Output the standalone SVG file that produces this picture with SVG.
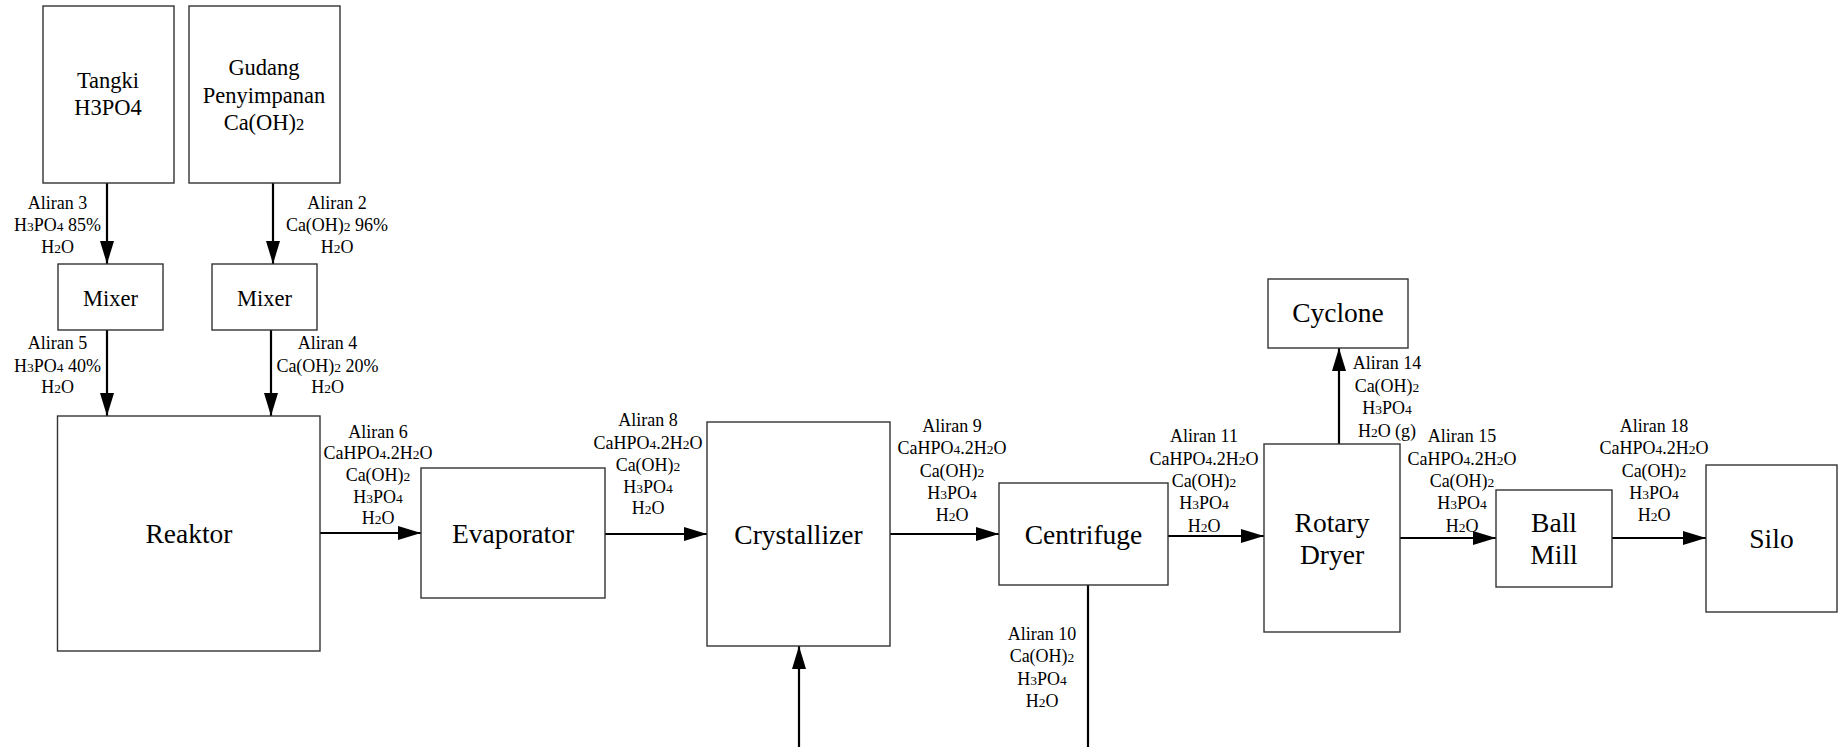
<svg xmlns="http://www.w3.org/2000/svg" width="1842" height="747" viewBox="0 0 1842 747">
<style>
.box{fill:#fff;stroke:#333;stroke-width:1.4}
.ln{stroke:#000;stroke-width:2.2;fill:none}
.la{stroke:#000;stroke-width:2.2;fill:none;marker-end:url(#ah)}
</style>
<defs>
<marker id="ah" markerUnits="userSpaceOnUse" markerWidth="24" markerHeight="15" refX="23" refY="7" orient="auto">
<path d="M0,0 L23,7 L0,14 z" fill="#000"/>
</marker>
</defs>
<rect width="1842" height="747" fill="#fff"/>

<g id="connectors">
<line class="la" x1="107" y1="183" x2="107" y2="264"/>
<line class="la" x1="273" y1="183" x2="273" y2="264"/>
<line class="la" x1="107" y1="330" x2="107" y2="416"/>
<line class="la" x1="271" y1="330" x2="271" y2="416"/>
<line class="la" x1="320" y1="533" x2="421" y2="533"/>
<line class="la" x1="605" y1="534" x2="707" y2="534"/>
<line class="la" x1="890" y1="534" x2="999" y2="534"/>
<line class="la" x1="799" y1="747" x2="799" y2="646"/>
<line class="ln" x1="1088" y1="585" x2="1088" y2="747"/>
<line class="la" x1="1168" y1="536" x2="1264" y2="536"/>
<line class="la" x1="1339" y1="444" x2="1339" y2="348"/>
<line class="la" x1="1400" y1="538" x2="1496" y2="538"/>
<line class="la" x1="1612" y1="538" x2="1706" y2="538"/>
</g>

<g id="labels">
<text font-family="Liberation Serif" font-size="18" text-anchor="middle" x="57.5" y="209">Aliran 3</text>
<text font-family="Liberation Serif" font-size="18" text-anchor="middle" x="57.5" y="231">H<tspan font-size="13.5">3</tspan>PO<tspan font-size="13.5">4</tspan> 85%</text>
<text font-family="Liberation Serif" font-size="18" text-anchor="middle" x="57.5" y="253">H<tspan font-size="13.5">2</tspan>O</text>

<text font-family="Liberation Serif" font-size="18" text-anchor="middle" x="337" y="209">Aliran 2</text>
<text font-family="Liberation Serif" font-size="18" text-anchor="middle" x="337" y="231">Ca(OH)<tspan font-size="13.5">2</tspan> 96%</text>
<text font-family="Liberation Serif" font-size="18" text-anchor="middle" x="337" y="253">H<tspan font-size="13.5">2</tspan>O</text>

<text font-family="Liberation Serif" font-size="18" text-anchor="middle" x="57.5" y="349">Aliran 5</text>
<text font-family="Liberation Serif" font-size="18" text-anchor="middle" x="57.5" y="372">H<tspan font-size="13.5">3</tspan>PO<tspan font-size="13.5">4</tspan> 40%</text>
<text font-family="Liberation Serif" font-size="18" text-anchor="middle" x="57.5" y="393">H<tspan font-size="13.5">2</tspan>O</text>

<text font-family="Liberation Serif" font-size="18" text-anchor="middle" x="327.5" y="349">Aliran 4</text>
<text font-family="Liberation Serif" font-size="18" text-anchor="middle" x="327.5" y="372">Ca(OH)<tspan font-size="13.5">2</tspan> 20%</text>
<text font-family="Liberation Serif" font-size="18" text-anchor="middle" x="327.5" y="393">H<tspan font-size="13.5">2</tspan>O</text>

<text font-family="Liberation Serif" font-size="18" text-anchor="middle" x="378" y="438">Aliran 6</text>
<text font-family="Liberation Serif" font-size="18" text-anchor="middle" x="378" y="459">CaHPO<tspan font-size="13.5">4</tspan>.2H<tspan font-size="13.5">2</tspan>O</text>
<text font-family="Liberation Serif" font-size="18" text-anchor="middle" x="378" y="481">Ca(OH)<tspan font-size="13.5">2</tspan></text>
<text font-family="Liberation Serif" font-size="18" text-anchor="middle" x="378" y="503">H<tspan font-size="13.5">3</tspan>PO<tspan font-size="13.5">4</tspan></text>
<text font-family="Liberation Serif" font-size="18" text-anchor="middle" x="378" y="524">H<tspan font-size="13.5">2</tspan>O</text>

<text font-family="Liberation Serif" font-size="18" text-anchor="middle" x="648" y="426">Aliran 8</text>
<text font-family="Liberation Serif" font-size="18" text-anchor="middle" x="648" y="449">CaHPO<tspan font-size="13.5">4</tspan>.2H<tspan font-size="13.5">2</tspan>O</text>
<text font-family="Liberation Serif" font-size="18" text-anchor="middle" x="648" y="471">Ca(OH)<tspan font-size="13.5">2</tspan></text>
<text font-family="Liberation Serif" font-size="18" text-anchor="middle" x="648" y="493">H<tspan font-size="13.5">3</tspan>PO<tspan font-size="13.5">4</tspan></text>
<text font-family="Liberation Serif" font-size="18" text-anchor="middle" x="648" y="514">H<tspan font-size="13.5">2</tspan>O</text>

<text font-family="Liberation Serif" font-size="18" text-anchor="middle" x="952" y="432">Aliran 9</text>
<text font-family="Liberation Serif" font-size="18" text-anchor="middle" x="952" y="454">CaHPO<tspan font-size="13.5">4</tspan>.2H<tspan font-size="13.5">2</tspan>O</text>
<text font-family="Liberation Serif" font-size="18" text-anchor="middle" x="952" y="477">Ca(OH)<tspan font-size="13.5">2</tspan></text>
<text font-family="Liberation Serif" font-size="18" text-anchor="middle" x="952" y="499">H<tspan font-size="13.5">3</tspan>PO<tspan font-size="13.5">4</tspan></text>
<text font-family="Liberation Serif" font-size="18" text-anchor="middle" x="952" y="521">H<tspan font-size="13.5">2</tspan>O</text>

<text font-family="Liberation Serif" font-size="18" text-anchor="middle" x="1042" y="640">Aliran 10</text>
<text font-family="Liberation Serif" font-size="18" text-anchor="middle" x="1042" y="662">Ca(OH)<tspan font-size="13.5">2</tspan></text>
<text font-family="Liberation Serif" font-size="18" text-anchor="middle" x="1042" y="685">H<tspan font-size="13.5">3</tspan>PO<tspan font-size="13.5">4</tspan></text>
<text font-family="Liberation Serif" font-size="18" text-anchor="middle" x="1042" y="707">H<tspan font-size="13.5">2</tspan>O</text>

<text font-family="Liberation Serif" font-size="18" text-anchor="middle" x="1204" y="442">Aliran 11</text>
<text font-family="Liberation Serif" font-size="18" text-anchor="middle" x="1204" y="465">CaHPO<tspan font-size="13.5">4</tspan>.2H<tspan font-size="13.5">2</tspan>O</text>
<text font-family="Liberation Serif" font-size="18" text-anchor="middle" x="1204" y="487">Ca(OH)<tspan font-size="13.5">2</tspan></text>
<text font-family="Liberation Serif" font-size="18" text-anchor="middle" x="1204" y="509">H<tspan font-size="13.5">3</tspan>PO<tspan font-size="13.5">4</tspan></text>
<text font-family="Liberation Serif" font-size="18" text-anchor="middle" x="1204" y="532">H<tspan font-size="13.5">2</tspan>O</text>

<text font-family="Liberation Serif" font-size="18" text-anchor="middle" x="1387" y="369">Aliran 14</text>
<text font-family="Liberation Serif" font-size="18" text-anchor="middle" x="1387" y="392">Ca(OH)<tspan font-size="13.5">2</tspan></text>
<text font-family="Liberation Serif" font-size="18" text-anchor="middle" x="1387" y="414">H<tspan font-size="13.5">3</tspan>PO<tspan font-size="13.5">4</tspan></text>
<text font-family="Liberation Serif" font-size="18" text-anchor="middle" x="1387" y="437">H<tspan font-size="13.5">2</tspan>O (g)</text>

<text font-family="Liberation Serif" font-size="18" text-anchor="middle" x="1462" y="442">Aliran 15</text>
<text font-family="Liberation Serif" font-size="18" text-anchor="middle" x="1462" y="465">CaHPO<tspan font-size="13.5">4</tspan>.2H<tspan font-size="13.5">2</tspan>O</text>
<text font-family="Liberation Serif" font-size="18" text-anchor="middle" x="1462" y="487">Ca(OH)<tspan font-size="13.5">2</tspan></text>
<text font-family="Liberation Serif" font-size="18" text-anchor="middle" x="1462" y="509">H<tspan font-size="13.5">3</tspan>PO<tspan font-size="13.5">4</tspan></text>
<text font-family="Liberation Serif" font-size="18" text-anchor="middle" x="1462" y="532">H<tspan font-size="13.5">2</tspan>O</text>

<text font-family="Liberation Serif" font-size="18" text-anchor="middle" x="1654" y="432">Aliran 18</text>
<text font-family="Liberation Serif" font-size="18" text-anchor="middle" x="1654" y="454">CaHPO<tspan font-size="13.5">4</tspan>.2H<tspan font-size="13.5">2</tspan>O</text>
<text font-family="Liberation Serif" font-size="18" text-anchor="middle" x="1654" y="477">Ca(OH)<tspan font-size="13.5">2</tspan></text>
<text font-family="Liberation Serif" font-size="18" text-anchor="middle" x="1654" y="499">H<tspan font-size="13.5">3</tspan>PO<tspan font-size="13.5">4</tspan></text>
<text font-family="Liberation Serif" font-size="18" text-anchor="middle" x="1654" y="521">H<tspan font-size="13.5">2</tspan>O</text>
</g>

<g id="tangki">
<rect class="box" x="43" y="6" width="131" height="177"/>
<text font-family="Liberation Serif" font-size="22.5" text-anchor="middle" x="108" y="87.5">Tangki</text>
<text font-family="Liberation Serif" font-size="22.5" text-anchor="middle" x="108" y="114.5">H3PO4</text>
</g>
<g id="gudang">
<rect class="box" x="189" y="6" width="151" height="177"/>
<text font-family="Liberation Serif" font-size="22.5" text-anchor="middle" x="264" y="74.5">Gudang</text>
<text font-family="Liberation Serif" font-size="22.5" text-anchor="middle" x="264" y="102.5">Penyimpanan</text>
<text font-family="Liberation Serif" font-size="22.5" text-anchor="middle" x="264" y="129.5">Ca(OH)<tspan font-size="16.5">2</tspan></text>
</g>
<g id="mixer1">
<rect class="box" x="58" y="264" width="105" height="66"/>
<text font-family="Liberation Serif" font-size="22.5" text-anchor="middle" x="110.5" y="305.5">Mixer</text>
</g>
<g id="mixer2">
<rect class="box" x="212" y="264" width="105" height="66"/>
<text font-family="Liberation Serif" font-size="22.5" text-anchor="middle" x="264.5" y="305.5">Mixer</text>
</g>
<g id="reaktor">
<rect class="box" x="57.5" y="416" width="262.5" height="235"/>
<text font-family="Liberation Serif" font-size="27.5" text-anchor="middle" x="189" y="543">Reaktor</text>
</g>
<g id="evaporator">
<rect class="box" x="421" y="468" width="184" height="130"/>
<text font-family="Liberation Serif" font-size="27.5" text-anchor="middle" x="513" y="543">Evaporator</text>
</g>
<g id="crystallizer">
<rect class="box" x="707" y="422" width="183" height="224"/>
<text font-family="Liberation Serif" font-size="27.5" text-anchor="middle" x="798.5" y="544">Crystallizer</text>
</g>
<g id="centrifuge">
<rect class="box" x="999" y="483" width="169" height="102"/>
<text font-family="Liberation Serif" font-size="27.5" text-anchor="middle" x="1083.5" y="544">Centrifuge</text>
</g>
<g id="rotary-dryer">
<rect class="box" x="1264" y="444" width="136" height="188"/>
<text font-family="Liberation Serif" font-size="27.5" text-anchor="middle" x="1332" y="532">Rotary</text>
<text font-family="Liberation Serif" font-size="27.5" text-anchor="middle" x="1332" y="564">Dryer</text>
</g>
<g id="cyclone">
<rect class="box" x="1268" y="279" width="140" height="69"/>
<text font-family="Liberation Serif" font-size="27.5" text-anchor="middle" x="1338" y="322">Cyclone</text>
</g>
<g id="ball-mill">
<rect class="box" x="1496" y="490" width="116" height="97"/>
<text font-family="Liberation Serif" font-size="27.5" text-anchor="middle" x="1554" y="532">Ball</text>
<text font-family="Liberation Serif" font-size="27.5" text-anchor="middle" x="1554" y="564">Mill</text>
</g>
<g id="silo">
<rect class="box" x="1706" y="465" width="131" height="147"/>
<text font-family="Liberation Serif" font-size="27.5" text-anchor="middle" x="1771.5" y="548">Silo</text>
</g>
</svg>
